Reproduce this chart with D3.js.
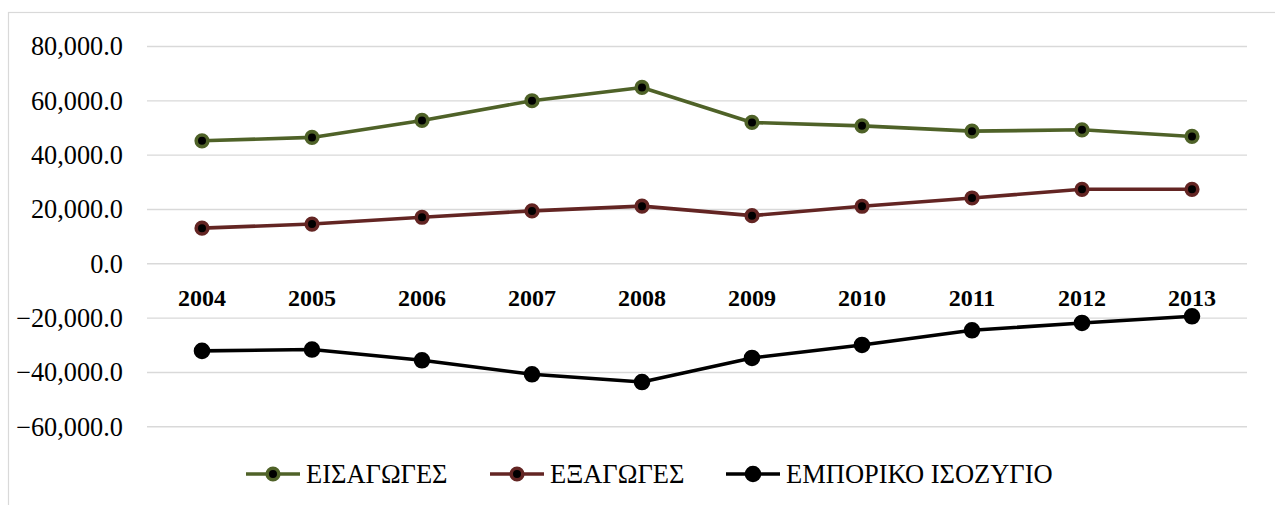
<!DOCTYPE html>
<html>
<head>
<meta charset="utf-8">
<script src="https://cdn.jsdelivr.net/npm/d3@7"></script>
<style>
  html, body { margin: 0; padding: 0; background: #fff; }
  svg { display: block; }
</style>
</head>
<body>
<svg id="chart" width="1275" height="505"></svg>
<script>
// ---- data ----
const years = ["2004","2005","2006","2007","2008","2009","2010","2011","2012","2013"];
const imports = [45100, 46350, 52600, 59850, 64750, 51850, 50600, 48650, 49150, 46700];
const exports_ = [12950, 14450, 16950, 19300, 21050, 17550, 21000, 24050, 27250, 27250];
const balance = [-32250, -31750, -35700, -40850, -43700, -34850, -30050, -24650, -21950, -19500];
const seriesNames = ["ΕΙΣΑΓΩΓΕΣ", "ΕΞΑΓΩΓΕΣ", "ΕΜΠΟΡΙΚΟ ΙΣΟΖΥΓΙΟ"];
const yTicks = [-60000, -40000, -20000, 0, 20000, 40000, 60000, 80000];

const seriesColors = ["#4f6228", "#632523", "#000000"];
const seriesData = [imports, exports_, balance];

const svg = d3.select("#chart");
const font = "'Liberation Serif', 'Times New Roman', serif";

// border
svg.append("rect")
  .attr("x", 8.5).attr("y", 12.5)
  .attr("width", 1300).attr("height", 600)
  .attr("fill", "none").attr("stroke", "#d9d9d9").attr("stroke-width", 1.2);

const x = d3.scaleBand().domain(years).range([147, 1247]).padding(0);
const y = d3.scaleLinear().domain([-60000, 80000]).range([426.3, 46]);

// y axis with gridlines
const yAxis = d3.axisLeft(y).tickValues(yTicks).tickFormat(d3.format(",.1f"))
  .tickSize(-(1247 - 147)).tickPadding(24);
const gy = svg.append("g").attr("transform", "translate(147,0)").call(yAxis);
gy.attr("font-family", font);
gy.select(".domain").remove();
gy.selectAll(".tick line").attr("stroke", "#d9d9d9").attr("stroke-width", 1.4);
gy.selectAll(".tick text")
  .attr("font-family", font).attr("font-size", 26.3).attr("fill", "#000")
  .attr("dy", "0.34em");

// x axis labels (bold years)
const xAxis = d3.axisBottom(x).tickSize(0).tickPadding(0);
const gx = svg.append("g").attr("transform", `translate(0,${y(0)})`).call(xAxis);
gx.attr("font-family", font);
gx.select(".domain").remove();
gx.selectAll(".tick text")
  .attr("font-family", font).attr("font-size", 24).attr("font-weight", "bold")
  .attr("fill", "#000").attr("y", 43).attr("dy", 0);

const cx = d => x(d) + x.bandwidth() / 2;
const line = d3.line().x((d, i) => cx(years[i])).y(d => y(d));

seriesData.forEach((vals, s) => {
  svg.append("path").datum(vals)
    .attr("d", line)
    .attr("fill", "none")
    .attr("stroke", seriesColors[s])
    .attr("stroke-width", 3.6)
    .attr("stroke-linejoin", "round");
  svg.append("g").selectAll("circle").data(vals).join("circle")
    .attr("cx", (d, i) => cx(years[i]))
    .attr("cy", d => y(d))
    .attr("r", s === 2 ? 6.7 : 5.8)
    .attr("fill", "#000")
    .attr("stroke", seriesColors[s])
    .attr("stroke-width", s === 2 ? 3.2 : 3.6);
});

// legend
const legendY = 474;
const legendItems = [
  { x0: 246, name: seriesNames[0] },
  { x0: 490, name: seriesNames[1] },
  { x0: 726, name: seriesNames[2] }
];
legendItems.forEach((it, s) => {
  const g = svg.append("g");
  g.append("line")
    .attr("x1", it.x0).attr("x2", it.x0 + 54)
    .attr("y1", legendY).attr("y2", legendY)
    .attr("stroke", seriesColors[s]).attr("stroke-width", 3.6);
  g.append("circle")
    .attr("cx", it.x0 + 27).attr("cy", legendY)
    .attr("r", s === 2 ? 6.7 : 5.8)
    .attr("fill", "#000")
    .attr("stroke", seriesColors[s])
    .attr("stroke-width", s === 2 ? 3.2 : 3.6);
  g.append("text")
    .attr("x", it.x0 + 60).attr("y", legendY + 9)
    .attr("font-family", font).attr("font-size", 26.5).attr("fill", "#000")
    .text(it.name);
});
</script>
</body>
</html>
